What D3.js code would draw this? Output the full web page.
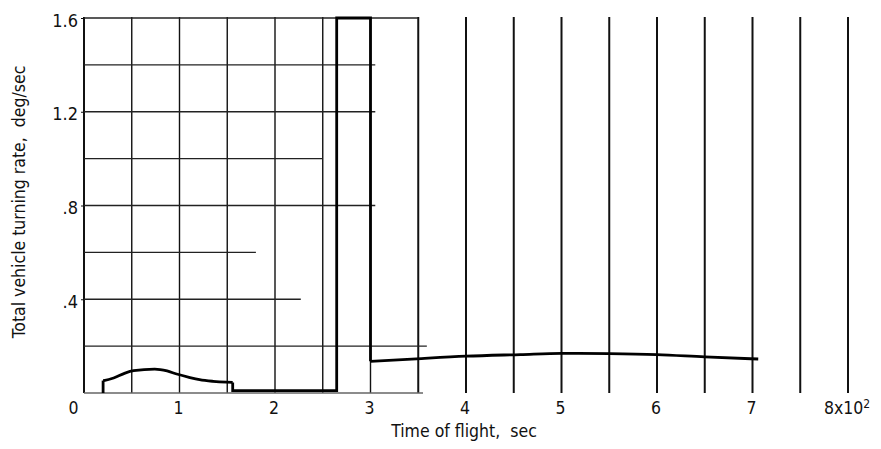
<!DOCTYPE html>
<html>
<head>
<meta charset="utf-8">
<script src="https://cdn.jsdelivr.net/npm/d3@7"></script>
<style>
  body { margin: 0; background: #fff; }
  text { font-family: "DejaVu Sans Condensed", "DejaVu Sans", sans-serif; font-stretch: condensed; fill: #111; }
</style>
</head>
<body>
<div id="chart"></div>
<script>
// Tick labels and grid values
const xTicks = [0, 1, 2, 3, 4, 5, 6, 7, 8];
const xTickLabels = ["0", "1", "2", "3", "4", "5", "6", "7", "8x10"];
const yTicks = [0.4, 0.8, 1.2, 1.6];
const yTickLabels = [".4", ".8", "1.2", "1.6"];
const xGrid = [0, 0.5, 1, 1.5, 2, 2.5, 3, 3.5, 4, 4.5, 5, 5.5, 6, 6.5, 7, 7.5, 8];
const yGrid = [0, 0.2, 0.4, 0.6, 0.8, 1.0, 1.2, 1.4, 1.6];
// where each horizontal grid line stops (the scanned grid is ruled unevenly)
const yGridEnd = [3.55, 3.59, 2.27, 1.8, 3.05, 2.5, 3.05, 3.05, 3.5];

// Turning rate trace (time in 10^2 sec, rate in deg/sec)
const humpTime = [0.2, 0.22, 0.31, 0.43, 0.52, 0.74, 0.87, 0.97, 1.1, 1.21, 1.35, 1.49, 1.557];
const humpRate = [0.053, 0.054, 0.064, 0.085, 0.095, 0.102, 0.094, 0.081, 0.067, 0.057, 0.05, 0.046, 0.045];
const stepTime = [1.557, 1.557, 2.646, 2.646, 3.0, 3.0];
const stepRate = [0.045, 0.01, 0.01, 1.6, 1.6, 0.135];
const tailTime = [3.0, 3.48, 4.0, 4.57, 5.0, 5.5, 6.0, 6.5, 7.06];
const tailRate = [0.135, 0.146, 0.157, 0.164, 0.169, 0.168, 0.164, 0.154, 0.145];

const width = 881;
const height = 449;

const svg = d3.select("#chart")
    .append("svg")
    .attr("width", width)
    .attr("height", height);

const x = d3.scaleLinear().domain([0, 8]).range([84, 848]);
const y = d3.scaleLinear().domain([0, 1.6]).range([393, 18]);

// vertical grid lines
svg.append("g")
    .selectAll("line")
    .data(xGrid)
    .join("line")
    .attr("x1", d => x(d))
    .attr("x2", d => x(d))
    .attr("y1", y(1.6) - 1)
    .attr("y2", y(0))
    .attr("stroke", "#111")
    .attr("stroke-width", d => d === 0 ? 2 : (d > 3.25 ? 2 : 1.4));

// horizontal grid lines
svg.append("g")
    .selectAll("line")
    .data(yGrid)
    .join("line")
    .attr("x1", x(0))
    .attr("x2", (d, i) => x(yGridEnd[i]))
    .attr("y1", d => y(d))
    .attr("y2", d => y(d))
    .attr("stroke", (d, i) => i === 0 ? "#666" : "#222")
    .attr("stroke-width", 1.3);

// the trace
const toPoints = (xs, ys) => xs.map((t, i) => [t, ys[i]]);
const smooth = d3.line().x(d => x(d[0])).y(d => y(d[1])).curve(d3.curveMonotoneX);
const straight = d3.line().x(d => x(d[0])).y(d => y(d[1]));

svg.append("path")
    .attr("d", straight([[humpTime[0], 0], [humpTime[0], humpRate[0]]]))
    .attr("fill", "none").attr("stroke", "#000").attr("stroke-width", 2.8);
svg.append("path")
    .attr("d", smooth(toPoints(humpTime, humpRate)))
    .attr("fill", "none").attr("stroke", "#000").attr("stroke-width", 2.8);
svg.append("path")
    .attr("d", straight(toPoints(stepTime, stepRate)))
    .attr("fill", "none").attr("stroke", "#000").attr("stroke-width", 2.8)
    .attr("stroke-linejoin", "miter");
svg.append("path")
    .attr("d", smooth(toPoints(tailTime, tailRate)))
    .attr("fill", "none").attr("stroke", "#000").attr("stroke-width", 2.8);

// x axis labels
const xAxis = svg.append("g")
    .attr("transform", `translate(0, ${y(0) + 1})`)
    .call(d3.axisBottom(x).tickValues(xTicks).tickSize(0).tickPadding(8)
        .tickFormat((d, i) => xTickLabels[i]));
xAxis.select(".domain").remove();
xAxis.selectAll("text")
    .attr("font-size", 17.5)
    .attr("font-family", null)
    .attr("dx", d => d === 0 ? -11 : -1.5);
xAxis.selectAll(".tick")
    .filter(d => d === 8)
    .select("text")
    .append("tspan")
    .attr("dy", "-0.5em")
    .attr("font-size", 12)
    .text("2");

// y axis labels
const yAxis = svg.append("g")
    .attr("transform", `translate(${x(0)}, 0)`)
    .call(d3.axisLeft(y).tickValues(yTicks).tickSize(3).tickPadding(3)
        .tickFormat((d, i) => yTickLabels[i]));
yAxis.select(".domain").remove();
yAxis.selectAll("line").attr("stroke", "#111");
yAxis.selectAll("text")
    .attr("font-size", 18)
    .attr("font-family", null)
    .attr("dy", "0.45em");

// axis titles
svg.append("text")
    .attr("x", x(4) - 2)
    .attr("y", 437)
    .attr("text-anchor", "middle")
    .attr("font-size", 17.5)
    .style("white-space", "pre")
    .text("Time of flight,  sec");

svg.append("text")
    .attr("transform", "translate(25, 202) rotate(-90)")
    .attr("text-anchor", "middle")
    .attr("font-size", 17.5)
    .style("white-space", "pre")
    .text("Total vehicle turning rate,  deg/sec");
</script>
</body>
</html>
